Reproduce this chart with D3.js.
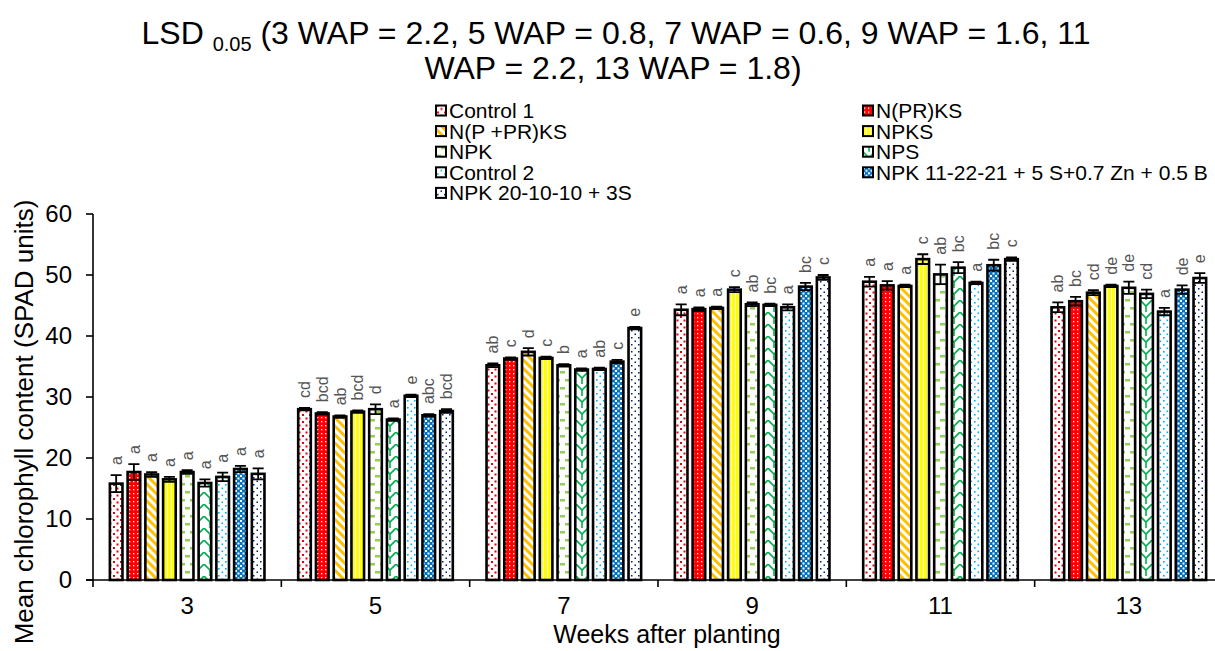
<!DOCTYPE html>
<html>
<head>
<meta charset="utf-8">
<script src="https://cdn.jsdelivr.net/npm/d3@7"></script>
<style>
  html, body { margin: 0; padding: 0; background: #fff; }
  svg { display: block; font-family: "Liberation Sans", Arial, sans-serif; }
</style>
</head>
<body>
<svg id="chart" width="1215" height="651"></svg>
<script>
// Weeks after planting (x categories)
const weeks = ["3", "5", "7", "9", "11", "13"];

// Treatments, in legend / bar order
const treatments = [
  "Control 1", "N(PR)KS", "N(P +PR)KS", "NPKS", "NPK", "NPS",
  "Control 2", "NPK 11-22-21 + 5 S+0.7 Zn + 0.5 B", "NPK 20-10-10 + 3S"
];

// Mean chlorophyll content (SPAD units), one array per week, in treatment order
const wap3  = [15.8, 17.7, 17.3, 16.5, 17.7, 15.9, 16.9, 18.2, 17.4];
const wap5  = [28.0, 27.3, 26.8, 27.6, 28.0, 26.3, 30.2, 27.0, 27.7];
const wap7  = [35.2, 36.3, 37.4, 36.4, 35.2, 34.5, 34.6, 35.8, 41.3];
const wap9  = [44.3, 44.4, 44.6, 47.6, 45.2, 45.1, 44.7, 48.1, 49.6];
const wap11 = [48.9, 48.3, 48.2, 52.6, 50.1, 51.2, 48.7, 51.6, 52.6];
const wap13 = [44.7, 45.7, 47.1, 48.2, 47.9, 46.9, 44.0, 47.6, 49.5];

// Standard errors
const err3  = [1.4, 1.3, 0.4, 0.4, 0.3, 0.6, 0.7, 0.5, 0.9];
const err5  = [0.2, 0.2, 0.2, 0.2, 0.8, 0.2, 0.2, 0.2, 0.3];
const err7  = [0.3, 0.2, 0.6, 0.2, 0.2, 0.2, 0.2, 0.3, 0.2];
const err9  = [0.9, 0.3, 0.2, 0.4, 0.3, 0.2, 0.5, 0.6, 0.4];
const err11 = [0.8, 0.7, 0.2, 0.8, 1.6, 0.9, 0.2, 0.9, 0.3];
const err13 = [0.8, 0.7, 0.4, 0.2, 1.0, 0.7, 0.6, 0.7, 0.8];

// Mean separation letters
const let3  = ["a", "a", "a", "a", "a", "a", "a", "a", "a"];
const let5  = ["cd", "bcd", "ab", "bcd", "d", "a", "e", "abc", "bcd"];
const let7  = ["ab", "c", "d", "c", "b", "a", "ab", "c", "e"];
const let9  = ["a", "a", "a", "c", "ab", "bc", "a", "bc", "c"];
const let11 = ["a", "a", "a", "c", "ab", "bc", "a", "bc", "c"];
const let13 = ["ab", "bc", "cd", "de", "de", "cd", "a", "de", "e"];

const yTicks = [0, 10, 20, 30, 40, 50, 60];

const meansByWeek = [wap3, wap5, wap7, wap9, wap11, wap13];
const errsByWeek = [err3, err5, err7, err9, err11, err13];
const lettersByWeek = [let3, let5, let7, let9, let11, let13];

const rows = [];
weeks.forEach((w, wi) => {
  treatments.forEach((t, ti) => {
    rows.push({ week: w, treatment: t, ti,
      value: meansByWeek[wi][ti], err: errsByWeek[wi][ti], letter: lettersByWeek[wi][ti] });
  });
});

const svg = d3.select("#chart");
const defs = svg.append("defs");

// ---- fill patterns ----
function makePattern(id, w, h, bg, draw, transform) {
  const p = defs.append("pattern").attr("id", id)
    .attr("patternUnits", "userSpaceOnUse").attr("width", w).attr("height", h);
  if (transform) p.attr("patternTransform", transform);
  p.append("rect").attr("width", w).attr("height", h).attr("fill", bg);
  draw(p);
}
const dots = (p, col, pts, s) => pts.forEach(([x, y]) =>
  p.append("rect").attr("x", x).attr("y", y).attr("width", s).attr("height", s).attr("fill", col));

makePattern("p0", 7, 7, "#fff", p => dots(p, "#e8000b", [[1, 1], [4.5, 4.5]], 2));
makePattern("p1", 4, 4, "#ff0000", p => dots(p, "#fff", [[1, 1]], 1.3));
makePattern("p2", 6, 6, "#fff", p =>
  p.append("rect").attr("x", 0).attr("y", 0).attr("width", 3).attr("height", 6).attr("fill", "#ffc000"),
  "rotate(-45)");
makePattern("p3", 4, 4, "#ffff00", p =>
  p.append("rect").attr("x", 3).attr("y", 0).attr("width", 1).attr("height", 4).attr("fill", "#fff"));
makePattern("p4", 10, 16, "#fff", p => {
  p.append("rect").attr("x", 0).attr("y", 3).attr("width", 5).attr("height", 2.5).attr("fill", "#92d050");
  p.append("rect").attr("x", 5).attr("y", 11).attr("width", 5).attr("height", 2.5).attr("fill", "#92d050");
});
makePattern("p5", 12, 12, "#fff", p =>
  p.append("path").attr("d", "M0,0 L6,6 L12,0 M6,6 L6,12")
    .attr("fill", "none").attr("stroke", "#00b050").attr("stroke-width", 1.6));
makePattern("p6", 7, 7, "#fff", p => dots(p, "#00b0f0", [[1, 1], [4.5, 4.5]], 1.6));
makePattern("p7", 5, 5, "#0070c0", p => dots(p, "#fff", [[0, 0], [2.5, 2.5]], 2));
makePattern("p8", 7, 7, "#fff", p => dots(p, "#002060", [[1, 1], [4.5, 4.5]], 1.5));

const fillOf = ti => `url(#p${ti})`;

// ---- scales ----
const y = d3.scaleLinear().domain([0, 60]).range([580, 214]);
const x0 = d3.scaleBand().domain(weeks).range([93, 1223]).paddingInner(0).paddingOuter(0);
const x1 = d3.scaleBand().domain(treatments).range([0, x0.bandwidth()])
  .paddingInner(0.29).paddingOuter(0.95);

// ---- bars ----
const g = svg.append("g");
g.selectAll("rect.bar").data(rows).join("rect")
  .attr("class", "bar")
  .attr("x", d => x0(d.week) + x1(d.treatment))
  .attr("y", d => y(d.value))
  .attr("width", x1.bandwidth())
  .attr("height", d => y(0) - y(d.value))
  .attr("fill", d => fillOf(d.ti))
  .attr("stroke", "#000").attr("stroke-width", 2.6);

// ---- error bars ----
const cx = d => x0(d.week) + x1(d.treatment) + x1.bandwidth() / 2;
const eb = g.append("g").attr("stroke", "#000").attr("stroke-width", 1.8).attr("fill", "none");
eb.selectAll("path").data(rows).join("path")
  .attr("d", d => {
    const c = cx(d), t = y(d.value + d.err), b = y(d.value - d.err), h = 5.5;
    return `M${c},${t}V${b}M${c - h},${t}H${c + h}M${c - h},${b}H${c + h}`;
  });

// ---- letters ----
g.selectAll("text.sig").data(rows).join("text")
  .attr("class", "sig")
  .attr("transform", d => `translate(${cx(d)},${y(d.value + d.err) - 10}) rotate(-90)`)
  .attr("dy", "0.35em")
  .attr("font-size", 16).attr("fill", "#555")
  .text(d => d.letter);

// ---- axes ----
const axes = svg.append("g").attr("stroke", "#000").attr("stroke-width", 1.6);
axes.append("line").attr("x1", 93).attr("x2", 93).attr("y1", y(60)).attr("y2", y(0));
axes.append("line").attr("x1", 86).attr("x2", 1215).attr("y1", y(0)).attr("y2", y(0));
axes.selectAll("line.yt").data(yTicks).join("line").attr("class", "yt")
  .attr("x1", 86).attr("x2", 93).attr("y1", d => y(d)).attr("y2", d => y(d));
const xTickPos = weeks.map(w => x0(w)).concat([x0(weeks[weeks.length - 1]) + x0.bandwidth()]);
axes.selectAll("line.xt").data(xTickPos).join("line").attr("class", "xt")
  .attr("x1", d => d).attr("x2", d => d).attr("y1", y(0)).attr("y2", y(0) + 7);

svg.append("g").selectAll("text").data(yTicks).join("text")
  .attr("x", 72).attr("y", d => y(d)).attr("dy", "0.35em")
  .attr("text-anchor", "end").attr("font-size", 24).text(d => d);

svg.append("g").selectAll("text").data(weeks).join("text")
  .attr("x", d => x0(d) + x0.bandwidth() / 2).attr("y", 614)
  .attr("text-anchor", "middle").attr("font-size", 24).text(d => d);

svg.append("text").attr("x", 667).attr("y", 643).attr("text-anchor", "middle")
  .attr("font-size", 25).text("Weeks after planting");

svg.append("text").attr("transform", "translate(33,422) rotate(-90)")
  .attr("text-anchor", "middle").attr("font-size", 26)
  .text("Mean chlorophyll content (SPAD units)");

// ---- title ----
const t1 = svg.append("text").attr("x", 616).attr("y", 44).attr("text-anchor", "middle").attr("font-size", 32);
t1.append("tspan").text("LSD ");
t1.append("tspan").attr("font-size", 20).attr("dy", 7).text("0.05");
t1.append("tspan").attr("dy", -7).text(" (3 WAP = 2.2, 5 WAP = 0.8, 7 WAP = 0.6, 9 WAP = 1.6, 11");
svg.append("text").attr("x", 613).attr("y", 79).attr("text-anchor", "middle").attr("font-size", 32)
  .text("WAP = 2.2, 13 WAP = 1.8)");

// ---- legend (two columns, row-major) ----
const legend = svg.append("g");
const legItems = legend.selectAll("g").data(treatments).join("g")
  .attr("transform", (d, i) => {
    const col = i % 2, row = Math.floor(i / 2);
    return `translate(${col ? 863 : 436},${110.5 + row * 20.6})`;
  });
legItems.append("rect").attr("x", 0).attr("y", -5).attr("width", 10).attr("height", 10)
  .attr("fill", (d, i) => fillOf(i)).attr("stroke", "#000").attr("stroke-width", 2);
legItems.append("text").attr("x", 13).attr("dy", "0.36em").attr("font-size", 21).text(d => d);
</script>
</body>
</html>
